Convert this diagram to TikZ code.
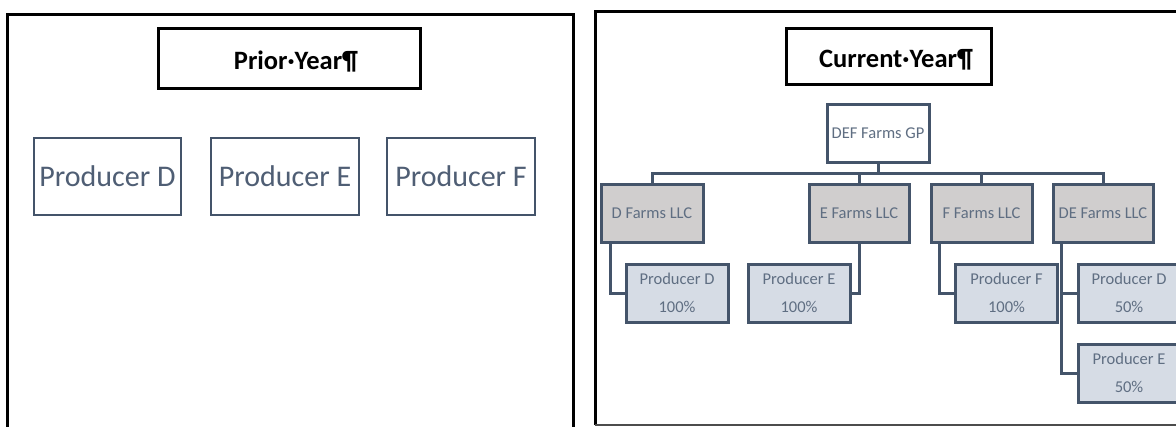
\documentclass[tikz,border=0pt]{standalone}
\usepackage{fontspec}
\setmainfont{Carlito}
\definecolor{slate}{HTML}{44546A}
\definecolor{txtgray}{HTML}{5F6E82}
\definecolor{bigtxt}{HTML}{4F5E74}
\definecolor{llcfill}{HTML}{D0CECE}
\definecolor{prodfill}{HTML}{D6DCE5}
\tikzset{
  titlebox/.style={draw=black, line width=3pt, fill=white, inner sep=0pt},
  titletext/.style={font=\bfseries\fontsize{26.5}{30}\selectfont},
  bigprod/.style={draw=slate, line width=2.5pt, inner sep=0pt, minimum height=77pt, text=bigtxt, font=\fontsize{30}{36}\selectfont},
  llcbox/.style={draw=slate, line width=3pt, fill=llcfill, inner sep=0pt, minimum height=58pt, text=txtgray, font=\fontsize{16.5}{20}\selectfont},
  gpbox/.style={draw=slate, line width=3pt, fill=white, inner sep=0pt, minimum width=102pt, minimum height=58pt, text=txtgray, font=\fontsize{16.5}{20}\selectfont},
  prodbox/.style={draw=slate, line width=3pt, fill=prodfill, inner sep=0pt, minimum width=102pt, minimum height=58pt, text=txtgray, align=center, font=\fontsize{16.5}{28}\selectfont},
  conn/.style={draw=slate, line width=3pt},
  frame/.style={draw=black, line width=3pt}
}
\begin{document}
\begin{tikzpicture}[x=1pt, y=-1pt]
\useasboundingbox (0,0) rectangle (1176,426);
\clip (0,0) rectangle (1176,426);
\fill[white] (0,0) rectangle (1176,426);
% frames
\draw[frame] (7,440) -- (7,14) -- (573,14) -- (573,440);
\draw[frame] (1200,11) -- (595,11) -- (595,425);
\draw[draw=black!70, line width=2.5pt] (595,425) -- (1200,425);
% left panel
\node[titlebox, minimum width=262pt, minimum height=60pt] (tp) at (289,58) {};
\node[titletext] (tpt) at (296,62) {Prior·Year¶};
\node[bigprod, minimum width=147pt] (pD) at (107.5,176.5) {Producer D};
\node[bigprod, minimum width=148pt] (pE) at (285,176.5) {Producer E};
\node[bigprod, minimum width=148pt] (pF) at (461,176.5) {Producer F};
% right panel
\node[titlebox, minimum width=205pt, minimum height=56pt] (tc) at (888.5,56) {};
\node[titletext] (tct) at (896,60) {Current·Year¶};
\node[gpbox] (def) at (878,133) {DEF Farms GP};
\node[llcbox, minimum width=102pt] (dllc) at (652,213) {D Farms LLC};
\node[llcbox, minimum width=100pt] (ellc) at (859,213) {E Farms LLC};
\node[llcbox, minimum width=101pt] (fllc) at (981.5,213) {F Farms LLC};
\node[llcbox, minimum width=100pt] (dellc) at (1103,213) {DE Farms LLC};
\node[prodbox] (pd100) at (677,293) {Producer D\\100\%};
\node[prodbox] (pe100) at (799,293) {Producer E\\100\%};
\node[prodbox] (pf100) at (1006.5,293) {Producer F\\100\%};
\node[prodbox] (pd50) at (1129,293) {Producer D\\50\%};
\node[prodbox] (pe50) at (1129,373) {Producer E\\50\%};
% connectors
\coordinate (busy) at (0,173);
\draw[conn] (def.south) -- (def.south |- busy);
\draw[conn] (dllc.north) -- (dllc.north |- busy) -- (dellc.north |- busy) -- (dellc.north);
\draw[conn] (ellc.north) -- (ellc.north |- busy);
\draw[conn] (fllc.north) -- (fllc.north |- busy);
\draw[conn] ([xshift=11pt]dllc.south west) |- (pd100.west);
\draw[conn] (ellc.south) |- (pe100.east);
\draw[conn] ([xshift=10pt]fllc.south west) |- (pf100.west);
\draw[conn] ([xshift=10pt]dellc.south west) |- (pd50.west);
\draw[conn] ([xshift=10pt]dellc.south west) |- (pe50.west);
\end{tikzpicture}
\end{document}
